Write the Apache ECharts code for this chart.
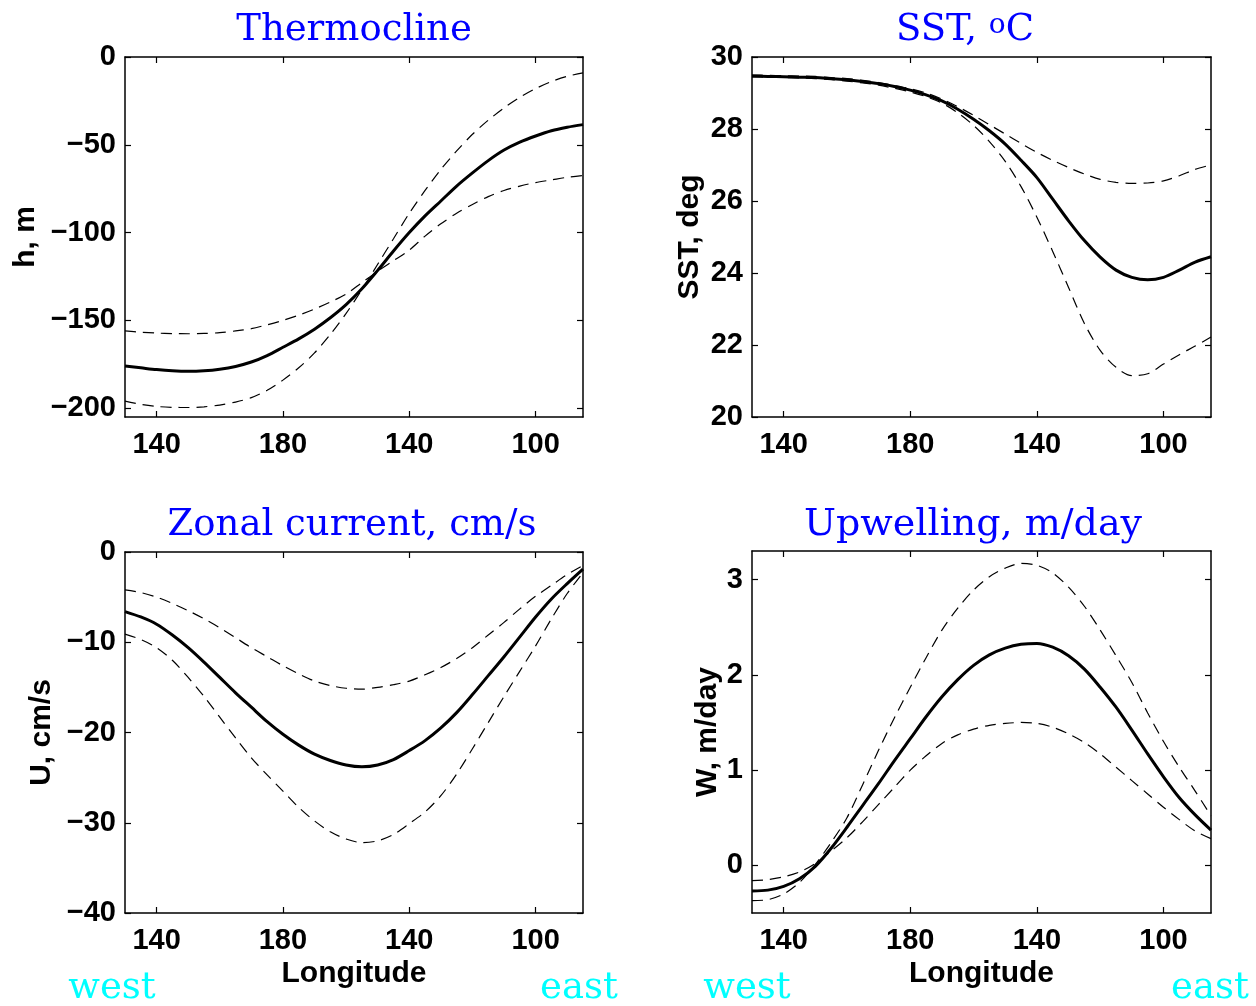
<!DOCTYPE html>
<html><head><meta charset="utf-8">
<script src="https://cdn.jsdelivr.net/npm/echarts@6/dist/echarts.min.js"></script>
<style>html,body{margin:0;padding:0;background:#fff}#c{width:1256px;height:1006px}</style>
</head><body><div id="c"></div>
<script>
// Longitude in degrees east (130E ... 85W), every 5 degrees
const lon = [130,135,140,145,150,155,160,165,170,175,180,185,190,195,200,205,210,215,220,225,230,235,240,245,250,255,260,265,270,275];
const lonTicks = [140,180,220,260];

// Thermocline depth, m
const hMean = [-176,-177,-178,-178.7,-179,-178.7,-177.8,-176.2,-173.7,-170,-165.3,-160.5,-155,-148.5,-141,-132,-121.5,-110.5,-100,-90.5,-82,-73.5,-66,-59,-53,-48.5,-45,-42,-40,-38.5];
const hFlat = [-156,-156.7,-157.2,-157.5,-157.6,-157.4,-157,-156,-154.7,-152.5,-150,-147,-143.5,-139.5,-135,-128.5,-122,-116,-110,-102,-95,-89,-84,-79.5,-76,-73.5,-71.5,-70,-68.5,-67.5];
const hSteep = [-196,-197.8,-199,-199.5,-199.6,-199.2,-198.2,-196.5,-194,-189.8,-184,-177,-168.5,-158,-146,-132.5,-118,-103.5,-89,-76,-64,-53.5,-44,-36,-29,-23,-18,-14,-11,-9];
const hTicks = [0,-50,-100,-150,-200];

// SST, deg C
const sstMean = [29.47,29.46,29.45,29.44,29.43,29.4,29.37,29.32,29.26,29.18,29.08,28.95,28.78,28.55,28.27,27.95,27.58,27.13,26.65,26.05,25.45,24.9,24.44,24.08,23.88,23.81,23.88,24.08,24.3,24.45];
const sstHi = [29.5,29.49,29.48,29.47,29.46,29.43,29.4,29.35,29.29,29.21,29.12,29.0,28.83,28.62,28.38,28.12,27.86,27.6,27.35,27.13,26.93,26.75,26.6,26.52,26.49,26.5,26.56,26.7,26.88,27.0];
const sstLo = [29.45,29.44,29.43,29.42,29.4,29.37,29.33,29.28,29.22,29.13,29.03,28.9,28.72,28.45,28.1,27.65,27.1,26.4,25.55,24.6,23.6,22.6,21.85,21.38,21.15,21.2,21.47,21.73,21.97,22.22];
const sstTicks = [20,22,24,26,28,30];

// Zonal current, cm/s
const uMean = [-6.6,-7.2,-8.0,-9.2,-10.6,-12.2,-13.9,-15.6,-17.2,-18.8,-20.2,-21.4,-22.4,-23.1,-23.6,-23.8,-23.6,-23.0,-22.0,-20.9,-19.5,-17.8,-15.8,-13.7,-11.6,-9.4,-7.2,-5.2,-3.5,-1.9];
const uHi = [-4.2,-4.5,-5.0,-5.7,-6.5,-7.4,-8.4,-9.5,-10.6,-11.6,-12.6,-13.5,-14.3,-14.8,-15.1,-15.2,-15.0,-14.7,-14.3,-13.6,-12.8,-11.8,-10.6,-9.2,-7.8,-6.3,-4.9,-3.7,-2.5,-1.5];
const uLo = [-9.1,-9.7,-10.6,-12.0,-13.9,-16.0,-18.3,-20.6,-22.8,-24.7,-26.5,-28.3,-29.8,-31.0,-31.8,-32.2,-32.0,-31.3,-30.1,-28.8,-27.0,-24.6,-21.8,-18.9,-16.0,-13.2,-10.4,-7.4,-4.6,-2.3];
const uTicks = [0,-10,-20,-30,-40];

// Upwelling, m/day
const wMean = [-0.27,-0.26,-0.22,-0.14,-0.01,0.18,0.40,0.63,0.86,1.10,1.33,1.56,1.77,1.95,2.10,2.21,2.28,2.32,2.33,2.29,2.20,2.06,1.87,1.66,1.42,1.17,0.93,0.71,0.53,0.37];
const wHi = [-0.37,-0.36,-0.30,-0.18,0.01,0.24,0.50,0.85,1.21,1.55,1.87,2.18,2.47,2.70,2.89,3.03,3.12,3.17,3.15,3.07,2.92,2.72,2.47,2.20,1.92,1.60,1.30,1.03,0.78,0.52];
const wLo = [-0.16,-0.15,-0.12,-0.07,0.02,0.15,0.29,0.46,0.64,0.82,1.0,1.15,1.28,1.37,1.43,1.47,1.49,1.50,1.49,1.45,1.38,1.29,1.17,1.03,0.89,0.75,0.61,0.48,0.36,0.28];
const wTicks = [0,1,2,3];

function lonLabel(v){ return String(v <= 180 ? v : 360 - v); }
function num(v){ return v < 0 ? '\u2212' + (-v) : String(v); }

const panels = [
  {grid:{left:125,top:57,width:458,height:360}, ymin:-205, ymax:0, yticks:hTicks, yname:'h, m', nameGap:84, xname:'', lines:[hMean,hFlat,hSteep]},
  {grid:{left:752,top:57,width:459,height:360}, ymin:20, ymax:30, yticks:sstTicks, yname:'SST, deg', nameGap:47, xname:'', lines:[sstMean,sstHi,sstLo]},
  {grid:{left:125,top:552,width:458,height:361}, ymin:-40, ymax:0, yticks:uTicks, yname:'U, cm/s', nameGap:68, xname:'Longitude', lines:[uMean,uHi,uLo]},
  {grid:{left:752,top:551,width:459,height:362}, ymin:-0.5, ymax:3.3, yticks:wTicks, yname:'W, m/day', nameGap:28, xname:'Longitude', lines:[wMean,wHi,wLo]}
];

const sans = '"Liberation Sans", Arial, sans-serif';
const serif = '"DejaVu Serif", serif';
const axisLine = {onZero:false, lineStyle:{color:'#000', width:1.5}};
const tickStyle = {color:'#000', width:1.2};

const grids = [], xAxes = [], yAxes = [], series = [];
panels.forEach((p, i) => {
  grids.push(Object.assign({containLabel:false}, p.grid));
  xAxes.push({
    gridIndex:i, type:'value', min:130, max:275, position:'bottom',
    axisLine:axisLine,
    axisTick:{inside:true, length:6, customValues:lonTicks, lineStyle:tickStyle},
    axisLabel:{customValues:lonTicks, formatter:lonLabel, color:'#000', fontFamily:sans, fontWeight:'bold', fontSize:29, margin:13},
    splitLine:{show:false},
    name:p.xname, nameLocation:'middle', nameGap:46,
    nameTextStyle:{color:'#000', fontFamily:sans, fontWeight:'bold', fontSize:30}
  });
  xAxes.push({
    gridIndex:i, type:'value', min:130, max:275, position:'top',
    axisLine:axisLine,
    axisTick:{inside:true, length:6, customValues:lonTicks, lineStyle:tickStyle},
    axisLabel:{show:false}, splitLine:{show:false}
  });
  yAxes.push({
    gridIndex:i, type:'value', min:p.ymin, max:p.ymax, position:'left',
    axisLine:axisLine,
    axisTick:{inside:true, length:6, customValues:p.yticks, lineStyle:tickStyle},
    axisLabel:{customValues:p.yticks, formatter:num, color:'#000', fontFamily:sans, fontWeight:'bold', fontSize:29, margin:9},
    splitLine:{show:false},
    name:p.yname, nameLocation:'middle', nameGap:p.nameGap,
    nameTextStyle:{color:'#000', fontFamily:sans, fontWeight:'bold', fontSize:30}
  });
  yAxes.push({
    gridIndex:i, type:'value', min:p.ymin, max:p.ymax, position:'right',
    axisLine:axisLine,
    axisTick:{inside:true, length:6, customValues:p.yticks, lineStyle:tickStyle},
    axisLabel:{show:false}, splitLine:{show:false}
  });
  p.lines.forEach((arr, k) => {
    series.push({
      type:'line', xAxisIndex:2*i, yAxisIndex:2*i,
      data: lon.map((x, j) => [x, arr[j]]),
      showSymbol:false, smooth:0.3, silent:true,
      lineStyle: k === 0 ? {color:'#000', width:3} : {color:'#000', width:1.2, type:[11,7]},
      z: k === 0 ? 3 : 2
    });
  });
});

function txt(x, y, text, font, fill, rich){
  const s = {text:text, font:font, fill:fill, align:'center', verticalAlign:'middle'};
  if (rich) s.rich = rich;
  return {type:'text', x:x, y:y, style:s, silent:true};
}
const titleFont = '37px ' + serif;
const graphics = [
  txt(354, 30, 'Thermocline', titleFont, '#0000ff'),
  txt(965, 30, '{a|SST, }{s|o}{a|C}', titleFont, '#0000ff', {
    a:{fontFamily:'DejaVu Serif', fontSize:37, fill:'#0000ff', verticalAlign:'bottom'},
    s:{fontFamily:'DejaVu Serif', fontSize:28, fill:'#0000ff', verticalAlign:'top'}
  }),
  txt(352, 525, 'Zonal current, cm/s', titleFont, '#0000ff'),
  txt(973, 525, 'Upwelling, m/day', '38px ' + serif, '#0000ff'),
  txt(112, 988, 'west', titleFont, '#00ffff'),
  txt(579, 988, 'east', titleFont, '#00ffff'),
  txt(747, 988, 'west', titleFont, '#00ffff'),
  txt(1210, 988, 'east', titleFont, '#00ffff')
];

const chart = echarts.init(document.getElementById('c'), null, {renderer:'canvas'});
chart.setOption({
  animation:false,
  backgroundColor:'#fff',
  grid:grids, xAxis:xAxes, yAxis:yAxes, series:series,
  graphic:graphics
});
</script>
</body></html>
